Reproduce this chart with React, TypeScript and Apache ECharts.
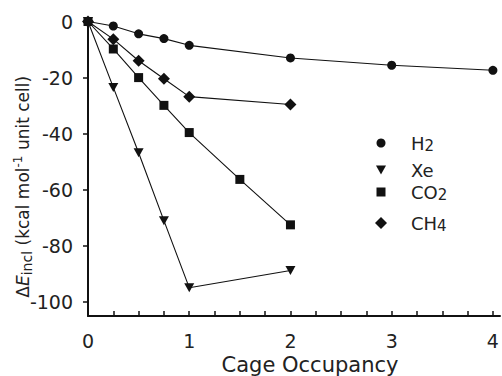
import React, { useEffect, useRef } from "react";
import * as echarts from "echarts";

const FONT = "DejaVu Sans";
const INK = "#111";
const TXT = "#222";

const seriesNames = ["H2", "Xe", "CO2", "CH4"];
const xH2 = [0, 0.25, 0.5, 0.75, 1, 2, 3, 4];
const yH2 = [0, -1.6, -4.4, -6.1, -8.5, -13, -15.6, -17.4];
const xXe = [0, 0.25, 0.5, 0.75, 1, 2];
const yXe = [0, -23.5, -46.8, -71, -94.9, -88.8];
const xCO2 = [0, 0.25, 0.5, 0.75, 1, 1.5, 2];
const yCO2 = [0, -9.8, -20, -29.9, -39.6, -56.3, -72.5];
const xCH4 = [0, 0.25, 0.5, 0.75, 1, 2];
const yCH4 = [0, -6.3, -14, -20.4, -26.8, -29.6];

const xTickValues = [0, 0.25, 0.5, 0.75, 1, 1.25, 1.5, 1.75, 2, 2.25, 2.5, 2.75, 3, 3.25, 3.5, 3.75, 4];
const xLabelValues = [0, 1, 2, 3, 4];
const yTickValues = [0, -20, -40, -60, -80, -100];

const legendRich: Record<string, string> = {
  H2: "{b|H}{s|2}",
  Xe: "{b|Xe}",
  CO2: "{b|CO}{s|2}",
  CH4: "{b|CH}{s|4}",
};

const pairs = (xs: number[], ys: number[]) => xs.map((x, i) => [x, ys[i]]);

export default function App() {
  const ref = useRef<HTMLDivElement>(null);
  useEffect(() => {
    const chart = echarts.init(ref.current!, null, { renderer: "svg" });

    const seriesDefs = [
      { name: "H2", data: pairs(xH2, yH2), symbol: "circle", symbolSize: 9, rotate: 0 },
      { name: "Xe", data: pairs(xXe, yXe), symbol: "triangle", symbolSize: [10, 9], rotate: 180 },
      { name: "CO2", data: pairs(xCO2, yCO2), symbol: "rect", symbolSize: 9, rotate: 0 },
      { name: "CH4", data: pairs(xCH4, yCH4), symbol: "diamond", symbolSize: 12, rotate: 0 },
    ];

    const legendIcons = ["circle", "path://M0,0L10,0L5,9Z", "rect", "diamond"];
    const legendSizes = [9, 10, 9, 12];
    const legendCenters = [144, 171, 193, 224];

    const legends = seriesNames.map((n, i) => {
      const w = legendSizes[i];
      return {
        data: [{ name: n, icon: legendIcons[i] }],
        left: 381 - w / 2,
        top: legendCenters[i] - 10,
        orient: "vertical",
        padding: 0,
        itemWidth: w,
        itemHeight: w,
        selectedMode: false,
        itemStyle: { color: INK },
        formatter: (name: string) => "{sp| }" + legendRich[name],
        textStyle: {
          fontFamily: FONT,
          fontSize: 18,
          color: TXT,
          rich: {
            sp: { width: 25 - w / 2, fontSize: 18, lineHeight: 20 },
            b: { fontFamily: FONT, fontSize: 18, color: TXT, lineHeight: 20 },
            s: { fontFamily: FONT, fontSize: 15, color: TXT, lineHeight: 6, verticalAlign: "bottom" },
          },
        },
      };
    });

    const option: any = {
      animation: false,
      backgroundColor: "#fff",
      grid: { left: 88, right: 2, top: 21.5, bottom: 60, containLabel: false, outerBoundsMode: "none" },
      legend: legends,
      xAxis: {
        type: "value",
        min: 0,
        max: 4.07,
        name: "Cage Occupancy",
        nameLocation: "middle",
        nameGap: 38,
        nameMoveOverlap: false,
        nameTextStyle: { fontFamily: FONT, fontSize: 21, color: TXT, padding: [0, 0, 0, 32] },
        axisLine: { show: true, onZero: false, lineStyle: { color: INK, width: 2 } },
        axisTick: { show: true, inside: true, length: 5, customValues: xTickValues, lineStyle: { color: INK, width: 1.5 } },
        axisLabel: { customValues: xLabelValues, margin: 15, fontFamily: FONT, fontSize: 19, color: TXT },
        splitLine: { show: false },
      },
      yAxis: {
        type: "value",
        min: -105,
        max: 0,
        name: "{d|Δ}{e|E}{s|incl}{n| (kcal mol}{p|-1}{n| unit cell)}",
        nameLocation: "middle",
        nameGap: 54,
        nameMoveOverlap: false,
        nameTextStyle: {
          fontFamily: FONT,
          fontSize: 17,
          color: TXT,
          padding: [0, 36, 0, 0],
          rich: {
            d: { fontFamily: FONT, fontSize: 17, color: TXT, lineHeight: 22 },
            e: { fontFamily: FONT, fontSize: 17, color: TXT, lineHeight: 22, fontStyle: "italic" },
            s: { fontFamily: FONT, fontSize: 14, color: TXT, lineHeight: 8, verticalAlign: "bottom" },
            n: { fontFamily: FONT, fontSize: 17, color: TXT, lineHeight: 22 },
            p: { fontFamily: FONT, fontSize: 12, color: TXT, lineHeight: 10, verticalAlign: "top" },
          },
        },
        axisLine: { show: true, onZero: false, lineStyle: { color: INK, width: 2 } },
        axisTick: { show: true, inside: false, length: 5, customValues: yTickValues, lineStyle: { color: INK, width: 1.5 } },
        axisLabel: { customValues: yTickValues, margin: 15, fontFamily: FONT, fontSize: 19, color: TXT },
        splitLine: { show: false },
      },
      series: seriesDefs.map((s) => ({
        type: "line",
        name: s.name,
        data: s.data,
        symbol: s.symbol,
        symbolSize: s.symbolSize,
        symbolRotate: s.rotate,
        showAllSymbol: true,
        clip: false,
        lineStyle: { color: INK, width: 1.1 },
        itemStyle: { color: INK },
        emphasis: { disabled: true },
      })),
    };

    chart.setOption(option);
    return () => chart.dispose();
  }, []);

  return (
    <div
      ref={ref}
      style={{ position: "absolute", left: 0, top: 0, width: 502, height: 376 }}
    />
  );
}
